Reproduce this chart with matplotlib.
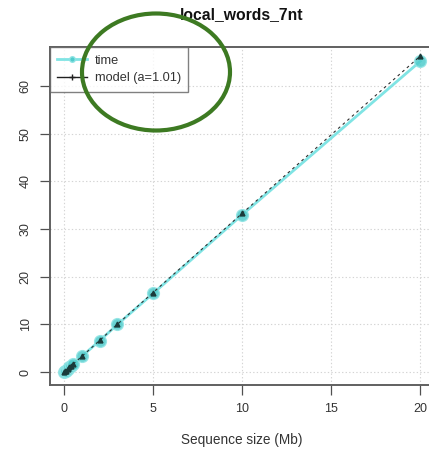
import matplotlib
matplotlib.use("Agg")
import matplotlib.pyplot as plt
from matplotlib.patches import Ellipse

plt.rcParams["font.family"] = ["Liberation Sans", "DejaVu Sans"]

# Run times of local_words_7nt against sequence length
size_mb = [0.0, 0.05, 0.1, 0.2, 0.3, 0.4, 0.5, 1.0, 2.0, 3.0, 5.0, 10.0, 20.0]
time_s = [0.0, 0.17, 0.33, 0.66, 1.0, 1.32, 1.65, 3.3, 6.6, 10.0, 16.5, 33.0, 65.2]
model_s = [0.0, 0.16, 0.32, 0.65, 0.98, 1.31, 1.64, 3.3, 6.65, 10.05, 16.7, 33.3, 66.3]

xticks = [0, 5, 10, 15, 20]
yticks = [0, 10, 20, 30, 40, 50, 60]

W, H = 429, 450
fig = plt.figure(figsize=(W / 100, H / 100), dpi=100)
fig.patch.set_facecolor("white")

ax = fig.add_axes([49.8 / W, 65 / H, (434.5 - 49.8) / W, (385 - 47) / H])
ax.set_xlim(-0.8, 20.8)
ax.set_ylim(-2.7, 68.2)

grid_kw = dict(color="#d4d4d4", linestyle=(0, (1.2, 2.0)), linewidth=0.8, zorder=0)
for xv in xticks:
    ax.axvline(xv, **grid_kw)
for yv in yticks:
    ax.axhline(yv, **grid_kw)

ax.plot(size_mb, time_s, color="#80e4e4", linewidth=2.0, zorder=2)
ax.plot(size_mb, time_s, linestyle="none", marker="o", markersize=8.5,
        markerfacecolor="#50cccc", markeredgecolor="#90e4e4", alpha=0.85, zorder=3)
ax.plot(size_mb, model_s, color="#303030", linewidth=0.8,
        linestyle=(0, (2.5, 3)), zorder=4)
ax.plot(size_mb, model_s, linestyle="none", marker="^", markersize=3.5,
        color="#1a3a3a", zorder=5)

ax.set_xticks(xticks)
ax.set_yticks(yticks)
ax.tick_params(axis="both", direction="out", length=7, width=0.9,
               color="#505050", labelsize=9, labelcolor="#333333", pad=6)
for lab in ax.get_yticklabels():
    lab.set_rotation(90)
    lab.set_va("center")
for sp in ax.spines.values():
    sp.set_color("#606060")
    sp.set_linewidth(1.4)

ax.set_xlabel("Sequence size (Mb)", fontsize=9.8, color="#333333", labelpad=13)
ax.set_ylabel("Time (s)", fontsize=9.8, color="#333333", labelpad=21)

# Legend box in the top-left corner
ax.plot([], [], color="#80e4e4", linewidth=2.0, marker="o", markersize=4,
        markerfacecolor="#50cccc", markeredgecolor="#90e4e4", label="time")
ax.plot([], [], color="#202020", linewidth=1.0, marker="+", markersize=5,
        label="model (a=1.01)")
handles, labels = ax.get_legend_handles_labels()
leg = ax.legend(handles[-2:], labels[-2:], loc="upper left", fontsize=9.2,
                frameon=True, fancybox=False, borderaxespad=0.0,
                handlelength=2.3, handletextpad=0.6, borderpad=0.6,
                labelspacing=0.45)
leg.get_frame().set_edgecolor("#606060")
leg.get_frame().set_linewidth(1.0)
for t in leg.get_texts():
    t.set_color("#333333")

fig.text(242 / W, 1 - 15 / H, "local_words_7nt", ha="center", va="center",
         fontsize=11.3, fontweight="bold", color="#111111")

# Hand-drawn highlight around the legend
ell = Ellipse((156 / W, 1 - 72 / H), 148 / W, 117 / H, transform=fig.transFigure,
              fill=False, edgecolor="#3d7a22", linewidth=3.0, zorder=10)
fig.patches.append(ell)

fig.savefig("out.png", dpi=100)
